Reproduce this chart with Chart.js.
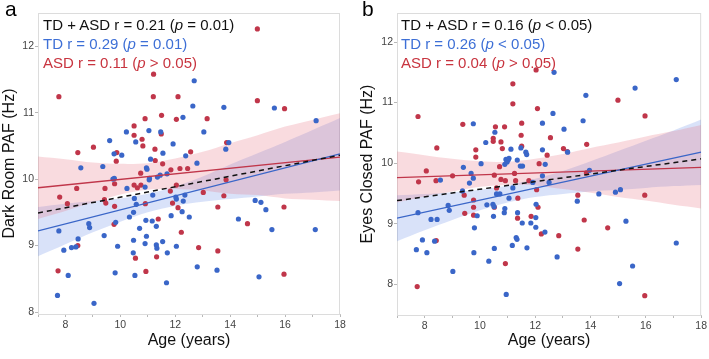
<!DOCTYPE html>
<html><head><meta charset="utf-8">
<script src="https://cdn.jsdelivr.net/npm/chart.js@4"></script>
<style>
html,body{margin:0;padding:0;background:#fff;width:709px;height:359px;overflow:hidden;font-family:"Liberation Sans",Arial,sans-serif}
#wrap{position:relative;width:709px;height:359px}
.pane{position:absolute;top:0;height:359px}
#pa{left:0;width:355px}
#pb{left:355px;width:354px}
canvas{display:block}
.letter{position:absolute;top:-3px;font-size:21px;color:#000}
.ann{position:absolute;font-size:15px;line-height:19px;white-space:nowrap}
.ann i{font-style:italic}
.k{color:#111}.bl{color:#3d6fd6}.rd{color:#c8343f}
</style></head>
<body><div id="wrap">
<div class="pane" id="pa"><canvas id="ca" width="355" height="359"></canvas>
<div class="letter" style="left:5px">a</div>
<div class="ann" style="left:43px;top:15px">
<div class="k">TD + ASD r = 0.21 (<i>p</i> = 0.01)</div>
<div class="bl">TD r = 0.29 (<i>p</i> = 0.01)</div>
<div class="rd">ASD r = 0.11 (<i>p</i> &gt; 0.05)</div></div>
</div>
<div class="pane" id="pb"><canvas id="cb" width="354" height="359"></canvas>
<div class="letter" style="left:7px">b</div>
<div class="ann" style="left:46px;top:15px">
<div class="k">TD + ASD r = 0.16 (<i>p</i> &lt; 0.05)</div>
<div class="bl">TD r = 0.26 (<i>p</i> &lt; 0.05)</div>
<div class="rd">ASD r = 0.04 (<i>p</i> &gt; 0.05)</div></div>
</div>
</div>
<script>
// ---- shared
const bandAges = [7,8,9,10,11,12,13,14,15,16,17,18];
const fitAges = [7,18];
const xTicks = [8,10,12,14,16,18];

// ---- panel a: Dark Room PAF
const aTdAge = [12.69,12.64,13.77,15.61,17.13,12.28,10.22,11.04,11.47,13.04,9.61,10.56,11.92,13.84,13.95,9.77,10.05,11.55,12.38,11.10,12.79,8.56,9.36,10.95,10.97,9.73,9.78,11.05,11.06,11.35,11.45,11.70,10.24,10.90,10.51,10.58,10.48,10.33,11.18,12.02,12.04,12.35,12.29,12.25,12.51,11.85,11.16,10.93,11.31,10.70,9.83,8.85,8.88,7.76,9.41,8.46,10.48,10.95,11.54,11.31,11.33,10.90,12.04,9.90,8.38,8.22,7.94,10.47,11.71,8.10,9.81,10.53,12.80,13.52,15.05,11.68,7.71,9.04,14.30,14.91,15.12,15.30,15.52,17.10];
const aTdPaf = [11.48,11.10,11.08,11.07,10.88,10.93,10.71,10.73,10.71,10.71,10.58,10.56,10.53,10.45,10.55,10.38,10.36,10.39,10.35,10.30,10.24,10.17,10.19,10.17,10.15,10.00,10.01,9.99,10.01,10.03,10.06,10.08,9.86,9.88,9.71,9.62,9.50,9.43,9.76,9.73,9.70,9.76,9.67,9.51,9.43,9.45,9.37,9.38,9.29,9.26,9.35,9.33,9.27,9.22,9.15,9.10,9.08,9.14,9.06,9.01,8.96,9.03,8.99,8.99,8.98,8.97,8.93,8.89,8.89,8.55,8.59,8.55,8.68,8.63,8.53,8.44,8.25,8.13,9.40,9.68,9.65,9.54,9.24,9.24];
const aAsdAge = [14.99,7.76,11.21,11.20,12.10,14.99,15.98,13.16,10.90,11.50,12.04,10.50,10.50,10.79,10.82,11.49,9.02,8.45,9.87,9.85,11.26,11.27,11.54,12.56,13.87,10.74,11.84,12.17,12.45,9.44,9.79,10.50,10.62,10.75,12.04,11.82,9.42,9.47,8.41,7.79,8.07,9.79,10.91,11.90,12.10,13.85,13.02,13.77,13.55,15.96,14.63,11.38,9.77,12.22,8.45,12.85,13.55,11.32,10.55,7.73,10.93,15.96];
const aAsdPaf = [12.26,11.24,11.58,11.24,11.24,11.18,11.06,10.91,10.91,10.96,10.90,10.80,10.66,10.60,10.50,10.68,10.48,10.40,10.40,10.27,10.45,10.28,10.23,10.41,10.55,10.09,10.14,10.16,10.16,9.86,9.93,9.91,9.87,9.91,9.91,9.82,9.69,9.64,9.86,9.73,9.63,9.59,9.63,9.64,9.57,9.99,9.80,9.75,9.58,9.58,9.33,9.40,9.32,9.20,9.00,8.97,8.92,8.83,8.81,8.62,8.61,8.57];
const aAllFit = [9.49,10.36];
const aTdFit = [9.22,10.38];
const aAsdFit = [9.87,10.33];
const aTdLo = [8.84,9.02,9.20,9.36,9.50,9.60,9.66,9.70,9.74,9.78,9.80,9.83];
const aTdHi = [9.58,9.63,9.67,9.71,9.78,9.89,10.04,10.22,10.39,10.56,10.74,10.92];
const aAsdLo = [9.40,9.52,9.65,9.77,9.84,9.85,9.83,9.78,9.76,9.71,9.69,9.67];
const aAsdHi = [10.34,10.30,10.25,10.23,10.24,10.31,10.41,10.54,10.66,10.79,10.89,10.99];

// ---- panel b: Eyes Closed PAF
const bTdAge = [12.68,13.83,15.61,17.10,9.76,10.54,10.21,11.12,11.48,12.26,12.64,13.04,13.73,13.17,12.26,11.66,11.69,10.94,11.02,10.98,11.05,10.90,10.04,9.40,9.68,11.46,11.54,11.35,12.36,9.62,9.76,9.37,8.57,7.76,8.85,8.89,9.90,10.25,10.47,10.51,10.60,10.72,11.05,11.19,10.90,10.88,10.49,11.36,11.53,11.84,12.02,12.03,12.02,12.35,11.91,12.26,12.50,13.52,14.30,14.90,15.08,15.28,7.92,7.70,8.08,8.36,9.78,10.52,10.32,11.17,11.31,11.34,11.70,12.79,9.02,10.95,15.05,15.52,17.10,13.96,8.23,8.45,9.80];
const bTdPaf = [11.50,11.12,11.24,11.38,10.65,10.51,10.34,10.23,10.25,10.66,10.82,10.56,10.70,10.18,10.22,10.18,10.14,10.06,10.05,10.02,10.08,9.98,9.99,9.93,9.83,9.95,9.95,10.05,9.98,9.67,9.75,9.54,9.72,9.18,9.30,9.22,9.13,9.31,9.32,9.28,9.49,9.49,9.42,9.59,9.25,9.18,9.12,9.18,9.01,9.01,9.10,9.32,8.94,8.86,9.68,9.79,9.68,9.37,9.49,9.52,9.56,9.04,8.73,8.57,8.52,8.71,8.52,8.59,8.38,8.64,8.77,8.74,8.60,8.45,8.21,7.83,8.01,8.30,8.68,9.88,9.07,9.07,8.93];
const bAsdAge = [7.76,8.44,8.06,9.38,9.85,9.85,10.48,10.48,10.56,10.76,10.81,10.89,11.19,11.19,11.51,11.49,11.51,12.03,12.08,12.14,12.55,12.43,13.02,13.16,13.86,14.99,15.97,10.71,11.25,9.01,7.78,8.41,9.43,9.45,9.77,9.77,9.77,10.52,10.60,10.76,10.92,11.29,11.37,11.36,10.52,11.77,11.85,12.05,12.10,12.22,12.85,13.54,13.54,13.77,13.85,14.62,15.96,15.96,8.42,7.73,10.92];
const bAsdPaf = [10.77,10.25,9.87,10.64,10.22,10.10,10.41,10.36,10.60,10.35,10.24,10.60,11.31,10.98,10.66,10.46,10.28,11.54,10.90,9.99,10.42,10.13,10.24,10.19,10.31,11.04,10.78,9.94,9.83,9.79,9.69,9.71,9.47,9.17,9.39,9.27,9.14,9.80,9.59,9.73,9.71,9.71,9.42,9.09,9.27,9.71,9.12,9.56,9.27,8.83,8.80,9.47,8.58,9.06,9.84,8.93,9.47,7.81,8.72,7.96,8.34];
const bAllFit = [9.38,10.07];
const bTdFit = [9.09,10.18];
const bAsdFit = [9.76,9.93];
const bTdLo = [8.71,8.89,9.06,9.22,9.35,9.44,9.49,9.53,9.56,9.59,9.62,9.64];
const bTdHi = [9.47,9.49,9.52,9.56,9.63,9.74,9.87,10.03,10.20,10.37,10.54,10.72];
const bAsdLo = [9.35,9.45,9.53,9.61,9.64,9.63,9.57,9.51,9.44,9.38,9.31,9.25];
const bAsdHi = [10.19,10.13,10.07,10.03,10.02,10.07,10.15,10.25,10.34,10.44,10.53,10.63];

const BLUE = 'rgb(58,102,200)', RED = 'rgb(192,54,74)';
const BLUE_BAND = 'rgba(95,135,228,0.24)', RED_BAND = 'rgba(228,105,120,0.24)';
const FONT = '"Liberation Sans", Arial, sans-serif';

const pts = (xs, ys) => xs.map((x, i) => ({x, y: ys[i]}));

const framePlugin = {
  id: 'frame',
  beforeDatasetsDraw(chart) {
    const {ctx, chartArea: a} = chart;
    ctx.save();
    ctx.strokeStyle = '#dcdcdc'; ctx.lineWidth = 1;
    ctx.strokeRect(a.left + 0.5, a.top + 0.5, a.right - a.left - 1, a.bottom - a.top);
    ctx.restore();
  }
};

function makeChart(id, d) {
  const datasets = [
    {type:'line', data: pts(bandAges, d.tdHi), fill:'+1', backgroundColor: BLUE_BAND, borderWidth:0, pointRadius:0, tension:0.3, order:5},
    {type:'line', data: pts(bandAges, d.tdLo), fill:false, borderWidth:0, pointRadius:0, tension:0.3, order:5},
    {type:'line', data: pts(bandAges, d.asdHi), fill:'+1', backgroundColor: RED_BAND, borderWidth:0, pointRadius:0, tension:0.3, order:4},
    {type:'line', data: pts(bandAges, d.asdLo), fill:false, borderWidth:0, pointRadius:0, tension:0.3, order:4},
    {type:'scatter', data: pts(d.tdAge, d.tdPaf), backgroundColor: BLUE, borderWidth:0, pointRadius:2.6, order:3},
    {type:'scatter', data: pts(d.asdAge, d.asdPaf), backgroundColor: RED, borderWidth:0, pointRadius:2.6, order:3},
    {type:'line', data: pts(fitAges, d.asdFit), borderColor: RED, borderWidth:1.3, pointRadius:0, fill:false, order:2},
    {type:'line', data: pts(fitAges, d.tdFit), borderColor: BLUE, borderWidth:1.3, pointRadius:0, fill:false, order:1},
    {type:'line', data: pts(fitAges, d.allFit), borderColor: '#111', borderWidth:1.5, borderDash:[5,4], pointRadius:0, fill:false, order:0}
  ];
  return new Chart(document.getElementById(id), {
    type: 'scatter',
    data: {datasets},
    plugins: [framePlugin],
    options: {
      responsive: false, animation: false, devicePixelRatio: 1,
      layout: {padding: {top: 13, right: d.padRight, left: 0, bottom: 0}},
      plugins: {legend: {display: false}, tooltip: {enabled: false}},
      scales: {
        x: {
          type: 'linear', min: 7, max: 18,
          afterFit: s => { s.height = d.xH; },
          ticks: {stepSize: 1, autoSkip: false, maxRotation: 0, padding: 2, color: '#444',
            font: {family: FONT, size: 10.5},
            callback: v => xTicks.includes(v) ? String(v) : ''},
          grid: {drawOnChartArea: false, drawTicks: true, tickLength: 3, color: '#b8b8b8'},
          border: {display: true, color: '#c4c4c4'},
          title: {display: true, text: 'Age (years)', color: '#111', font: {family: FONT, size: 16}, padding: {top: 0, bottom: 9}}
        },
        y: {
          type: 'linear', min: d.yMin, max: d.yMax,
          afterFit: s => { s.width = d.yW; },
          ticks: {stepSize: 1, includeBounds: false, padding: 1, color: '#444',
            font: {family: FONT, size: 10.5}},
          grid: {drawOnChartArea: false, drawTicks: true, tickLength: 3, color: '#b8b8b8'},
          border: {display: true, color: '#c4c4c4'},
          title: {display: true, text: d.yTitle, color: '#111', font: {family: FONT, size: 16}, padding: {top: d.yTitlePad, bottom: 0}}
        }
      }
    }
  });
}

makeChart('ca', {
  tdAge: aTdAge, tdPaf: aTdPaf, asdAge: aAsdAge, asdPaf: aAsdPaf,
  allFit: aAllFit, tdFit: aTdFit, asdFit: aAsdFit,
  tdLo: aTdLo, tdHi: aTdHi, asdLo: aAsdLo, asdHi: aAsdHi,
  yMin: 7.97, yMax: 12.5, yTitle: 'Dark Room PAF (Hz)', yTitlePad: 0,
  yW: 38, xH: 45, padRight: 15
});
makeChart('cb', {
  tdAge: bTdAge, tdPaf: bTdPaf, asdAge: bAsdAge, asdPaf: bAsdPaf,
  allFit: bAllFit, tdFit: bTdFit, asdFit: bAsdFit,
  tdLo: bTdLo, tdHi: bTdHi, asdLo: bAsdLo, asdHi: bAsdHi,
  yMin: 7.49, yMax: 12.48, yTitle: 'Eyes Closed PAF (Hz)', yTitlePad: 3,
  yW: 42, xH: 44, padRight: 7
});
</script>
</body></html>
